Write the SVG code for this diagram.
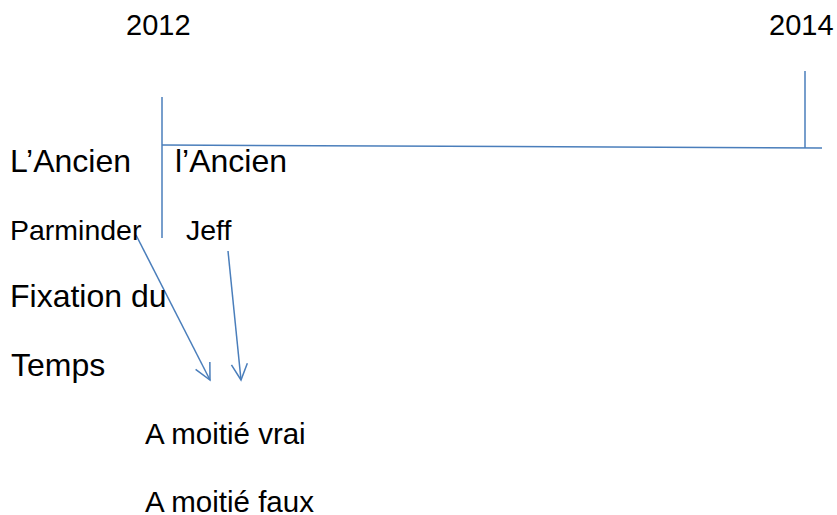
<svg xmlns="http://www.w3.org/2000/svg" width="837" height="515" viewBox="0 0 837 515">
<style>
text{font-family:"Liberation Sans",Arial,sans-serif;fill:#000}
.yr{font-size:29px}
.big{font-size:32px}
.mid{font-size:28.5px}
.half{font-size:29.5px}
.ln{stroke:#4A7EBB;stroke-width:1.5;fill:none}
</style>
<defs>
<marker id="arr" viewBox="0 0 20 20" refX="18" refY="10" markerWidth="20" markerHeight="20" markerUnits="userSpaceOnUse" orient="auto">
<path d="M2,2 L18,10 L2,18" fill="none" stroke="#4A7EBB" stroke-width="1.5"/>
</marker>
</defs>
<rect width="837" height="515" fill="#fff"/>
<g id="connectors">
<line class="ln" x1="162" y1="97" x2="162" y2="238"/>
<line class="ln" x1="162" y1="145" x2="822" y2="148"/>
<line class="ln" x1="805" y1="71" x2="805" y2="148"/>
<line class="ln" x1="136" y1="235" x2="210" y2="380" marker-end="url(#arr)"/>
<line class="ln" x1="228" y1="251" x2="241" y2="380" marker-end="url(#arr)"/>
</g>
<g id="y2012"><text class="yr" x="126" y="35">2012</text></g>
<g id="y2014"><text class="yr" x="769" y="35">2014</text></g>
<g id="ancien1"><text class="big" x="10" y="172">L’Ancien</text></g>
<g id="ancien2"><text class="big" x="175" y="172">l’Ancien</text></g>
<g id="parminder"><text class="mid" x="10" y="240">Parminder</text></g>
<g id="jeff"><text class="mid" x="186" y="240">Jeff</text></g>
<g id="fixation"><text class="big" x="10" y="307">Fixation du</text></g>
<g id="temps"><text class="big" x="11" y="376">Temps</text></g>
<g id="vrai"><text class="half" x="145" y="444">A moitié vrai</text></g>
<g id="faux"><text class="half" x="145" y="512">A moitié faux</text></g>
</svg>
